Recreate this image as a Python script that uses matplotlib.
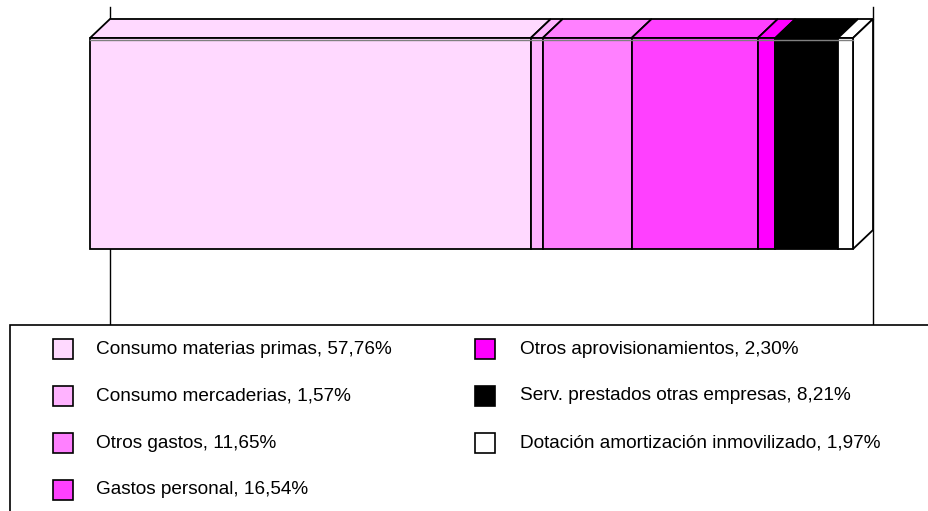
import matplotlib
matplotlib.use('Agg')
import matplotlib.pyplot as plt
from matplotlib.patches import Polygon, Rectangle
import numpy as np

plt.rcParams['font.family'] = ['Liberation Sans', 'DejaVu Sans']

# data
labels = ['Consumo materias primas', 'Consumo mercaderias', 'Otros gastos',
          'Gastos personal', 'Otros aprovisionamientos',
          'Serv. prestados otras empresas', 'Dotación amortización inmovilizado']
values = [57.76, 1.57, 11.65, 16.54, 2.30, 8.21, 1.97]
colors = ['#FFD9FF', '#FFB3FF', '#FF80FF', '#FF40FF', '#FF00FF', '#000000', '#FFFFFF']

W, H = 929, 511
fig = plt.figure(figsize=(W / 100, H / 100), dpi=100)
ax = fig.add_axes([0, 0, 1, 1])
# x in percent of the total, y in pixel rows from the top
scale = 7.63
x_left = 90
ax.set_xlim(-x_left / scale, (W - x_left) / scale)
ax.set_ylim(H, 0)
ax.axis('off')

dx = 20 / scale   # depth offset
dy = 19
y_top, y_bot = 38, 249

# back wall lines
ax.plot([dx, dx], [7, 325], color='black', lw=1, zorder=1)
ax.plot([100 + dx, 100 + dx], [7, 325], color='black', lw=1, zorder=1)
ax.plot([dx, 100 + dx], [y_top - dy, y_top - dy], color='gray', lw=1, zorder=1)

starts = np.concatenate([[0], np.cumsum(values)[:-1]])
for s, v, c in zip(starts, values, colors):
    e = s + v
    front = Polygon([(s, y_top), (e, y_top), (e, y_bot), (s, y_bot)], closed=True,
                    facecolor=c, edgecolor='black', lw=1.3, zorder=3)
    top = Polygon([(s, y_top), (e, y_top), (e + dx, y_top - dy), (s + dx, y_top - dy)],
                  closed=True, facecolor=c, edgecolor='black', lw=1.3, zorder=2)
    ax.add_patch(top)
    ax.add_patch(front)

# grey shading line just under the front top edge
ax.plot([0, sum(values)], [y_top + 2, y_top + 2], color='gray', lw=1, zorder=4)

end = sum(values)
side = Polygon([(end, y_top), (end + dx, y_top - dy), (end + dx, y_bot - dy), (end, y_bot)],
               closed=True, facecolor=colors[-1], edgecolor='black', lw=1.3, zorder=2)
ax.add_patch(side)

# legend box
fig.patches.append(Rectangle((10 / W, -0.01), 1.0, (H - 325) / H + 0.01,
                             transform=fig.transFigure, facecolor='white',
                             edgecolor='black', lw=1.2, zorder=5))
col_x = [(53, 96), (475, 520)]
row_y = [349, 396, 443, 490]
for i, (lab, v, c) in enumerate(zip(labels, values, colors)):
    col = 0 if i < 4 else 1
    row = i if i < 4 else i - 4
    bx, tx = col_x[col]
    yc = row_y[row]
    fig.patches.append(Rectangle((bx / W, 1 - (yc + 10) / H), 20 / W, 20 / H,
                                 transform=fig.transFigure, facecolor=c,
                                 edgecolor='black', lw=1.2, zorder=6))
    num = f'{v:.2f}'.replace('.', ',')
    fig.text(tx / W, 1 - yc / H, f'{lab}, {num}%', fontsize=13.7,
             va='center', ha='left', zorder=7)

fig.savefig('out.png', dpi=100)
